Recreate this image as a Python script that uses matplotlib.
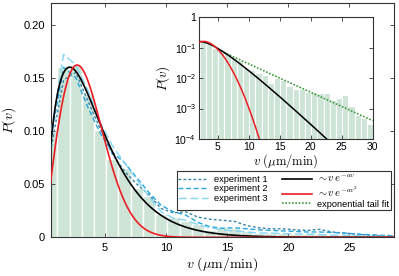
import numpy as np
import matplotlib
matplotlib.use("Agg")
import matplotlib.pyplot as plt

plt.rcParams['font.family'] = ['Liberation Sans', 'DejaVu Sans']
plt.rcParams['mathtext.fontset'] = 'cm'

# ---------------- data ----------------
bin_left = np.arange(0, 30) + 0.1          # histogram bin left edges (width 1)
hist_p = [0.100, 0.160, 0.162, 0.135, 0.101, 0.074, 0.065, 0.046, 0.039, 0.0216,
          0.019, 0.015, 0.0128, 0.0068, 0.0100, 0.0088, 0.0055, 0.0045, 0.0043, 0.0036,
          0.0034, 0.0033, 0.0033, 0.0019, 0.0023, 0.0028, 0.0012, 0.0006, 0.0005, 0.0003]

exp_v = np.arange(0, 29) + 0.6
exp1 = [0.085, 0.148, 0.155, 0.128, 0.102, 0.078, 0.062, 0.050, 0.040, 0.027,
        0.023, 0.024, 0.019, 0.017, 0.016, 0.015, 0.011, 0.009, 0.008, 0.008,
        0.007, 0.0065, 0.0075, 0.005, 0.004, 0.003, 0.002, 0.0015, 0.001]
exp2 = [0.095, 0.160, 0.150, 0.122, 0.098, 0.080, 0.070, 0.056, 0.042, 0.030,
        0.024, 0.021, 0.014, 0.010, 0.0085, 0.009, 0.008, 0.007, 0.0065, 0.006,
        0.0055, 0.005, 0.005, 0.0045, 0.004, 0.003, 0.0025, 0.002, 0.0015]
exp3 = [0.100, 0.172, 0.162, 0.138, 0.108, 0.086, 0.070, 0.054, 0.038, 0.024,
        0.018, 0.016, 0.012, 0.009, 0.007, 0.006, 0.005, 0.004, 0.004, 0.0035,
        0.003, 0.003, 0.0025, 0.002, 0.002, 0.0015, 0.001, 0.001, 0.0008]

# fit parameters
A_exp, a_exp = 0.207, 0.476        # ~ v e^{-a v}
A_gau, a_gau = 0.0985, 0.068       # ~ v e^{-a v^2}
B_tail, k_tail = 0.254, 0.215      # exponential tail fit
tail_range = (5.0, 30.0)

main_yticks = [0, 0.05, 0.10, 0.15, 0.20]
main_yticklabels = ['0', '0.05', '0.10', '0.15', '0.20']
main_xticks = [5, 10, 15, 20, 25]
inset_xticks = [5, 10, 15, 20, 25, 30]
inset_yticks = [1e-4, 1e-3, 1e-2, 1e-1, 1]
inset_yticklabels = [r'$\mathregular{10^{-4}}$', r'$\mathregular{10^{-3}}$',
                     r'$\mathregular{10^{-2}}$', r'$\mathregular{10^{-1}}$', '1']

bar_color = '#cde4d7'
c1, c2, c3 = '#3a84a6', '#27a6de', '#86d6f4'

# ---------------- figure ----------------
fig = plt.figure(figsize=(3.99, 2.76), dpi=100)
ax = fig.add_axes([0.1266, 0.1402, 0.8617, 0.8478])

ax.bar(bin_left, hist_p, width=1.0, align='edge', color=bar_color,
       edgecolor='white', linewidth=1.0, zorder=1)

l1, = ax.plot(exp_v, exp1, color=c1, lw=1.0, dashes=(2, 1.6), zorder=3)
l2, = ax.plot(exp_v, exp2, color=c2, lw=1.0, dashes=(3.5, 2), zorder=3)
l3, = ax.plot(exp_v, exp3, color=c3, lw=1.0, dashes=(6, 2.5), zorder=3)

v = np.linspace(0.3, 30, 600)
lb, = ax.plot(v, A_exp * v * np.exp(-a_exp * v), color='black', lw=1.2, zorder=4)
lr, = ax.plot(v, A_gau * v * np.exp(-a_gau * v ** 2), color='#ee1d23', lw=1.2, zorder=4)
lg, = ax.plot([], [], color='#3c9b3c', lw=1.2, ls=(0, (1, 1)))

ax.set_xlim(0.53, 28.7)
ax.set_ylim(0, 0.22)
ax.set_xticks(main_xticks)
ax.set_yticks(main_yticks)
ax.set_yticklabels(main_yticklabels)
ax.tick_params(direction='in', top=True, right=True, length=3, width=0.6,
               labelsize=8, pad=4, color='#333333')
for s in ax.spines.values():
    s.set_linewidth(0.8)
    s.set_color('#333333')
ax.set_xlabel(r'$v\ (\mu\mathrm{m}/\mathrm{min})$', fontsize=10, labelpad=2)
ax.set_ylabel(r'$P(v)$', fontsize=10, labelpad=4)

leg = ax.legend([l1, l2, l3, lb, lr, lg],
                ['experiment 1', 'experiment 2', 'experiment 3',
                 r'$\sim\!v\;e^{-av}$', r'$\sim\!v\;e^{-av^2}$', 'exponential tail fit'],
                ncol=2, loc='lower right', bbox_to_anchor=(0.990, 0.117),
                fontsize=6.7, frameon=True, fancybox=False, framealpha=1,
                edgecolor='#333333', handlelength=3.2, handletextpad=0.6,
                columnspacing=1.6, borderpad=0.15, labelspacing=0.05, borderaxespad=0)
leg.get_frame().set_linewidth(0.8)
leg.set_zorder(5)
for t in leg.get_texts()[3:5]:
    t.set_fontsize(7.5)

# ---------------- inset ----------------
ins = fig.add_axes([0.4987, 0.4964, 0.4353, 0.4409])
ins.set_facecolor('white')
ins.bar(bin_left, hist_p, width=1.0, align='edge', color=bar_color,
        edgecolor='white', linewidth=0.8, zorder=1)
ins.plot(v, A_exp * v * np.exp(-a_exp * v), color='black', lw=1.1, zorder=4)
ins.plot(v, A_gau * v * np.exp(-a_gau * v ** 2), color='#ee1d23', lw=1.1, zorder=4)
vt = np.linspace(tail_range[0], tail_range[1], 200)
ins.plot(vt, B_tail * np.exp(-k_tail * vt), color='#3c9b3c', lw=1.2,
         ls=(0, (1, 1)), zorder=3)
ins.set_yscale('log')
ins.set_xlim(2, 30)
ins.set_ylim(1e-4, 1)
ins.set_xticks(inset_xticks)
ins.set_yticks(inset_yticks)
ins.set_yticklabels(inset_yticklabels)
ins.minorticks_off()
ins.tick_params(direction='in', top=True, right=True, length=3, width=0.6,
                labelsize=7.5, pad=2, color='#333333')
for s in ins.spines.values():
    s.set_linewidth(0.8)
    s.set_color('#333333')
ins.set_xlabel(r'$v\ (\mu\mathrm{m}/\mathrm{min})$', fontsize=9, labelpad=0)
ins.set_ylabel(r'$P(v)$', fontsize=9.5, labelpad=2)

fig.savefig('out.png', dpi=100)
